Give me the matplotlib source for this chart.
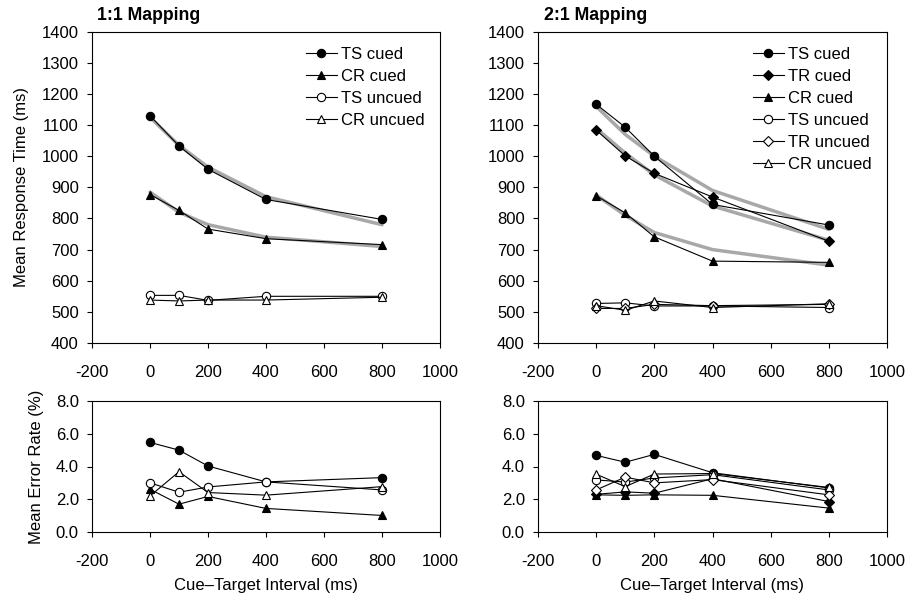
import matplotlib
matplotlib.use("Agg")
import matplotlib.pyplot as plt

plt.rcParams['font.family'] = ['Liberation Sans', 'DejaVu Sans']
plt.rcParams['axes.unicode_minus'] = False

cti = [0, 100, 200, 400, 800]
xticks = [-200, 0, 200, 400, 600, 800, 1000]

# 1:1 mapping RT
rt11_ts_cued = [1130, 1033, 958, 861, 797]
rt11_cr_cued = [877, 826, 766, 735, 716]
rt11_ts_uncued = [553, 553, 537, 550, 550]
rt11_cr_uncued = [538, 535, 538, 538, 547]
fit11_ts = [1125, 1035, 965, 870, 780]
fit11_cr = [885, 820, 780, 740, 710]

# 2:1 mapping RT
rt21_ts_cued = [1167, 1093, 1000, 845, 779]
rt21_tr_cued = [1084, 1001, 945, 869, 727]
rt21_cr_cued = [873, 818, 741, 663, 659]
rt21_ts_uncued = [527, 529, 519, 519, 514]
rt21_tr_uncued = [511, 511, 524, 520, 524]
rt21_cr_uncued = [520, 505, 535, 514, 526]
fit21_ts = [1160, 1070, 1000, 890, 765]
fit21_tr = [1090, 1010, 940, 840, 730]
fit21_cr = [875, 810, 755, 700, 650]

# 1:1 mapping errors
er11_ts_cued = [5.47, 5.0, 4.03, 3.06, 3.32]
er11_cr_cued = [2.61, 1.70, 2.17, 1.44, 1.01]
er11_ts_uncued = [3.0, 2.43, 2.75, 3.06, 2.57]
er11_cr_uncued = [2.2, 3.68, 2.41, 2.25, 2.77]

# 2:1 mapping errors
er21_ts_cued = [4.68, 4.26, 4.74, 3.62, 2.69]
er21_tr_cued = [2.3, 2.45, 2.37, 3.25, 1.86]
er21_cr_cued = [2.27, 2.24, 2.27, 2.24, 1.46]
er21_ts_uncued = [3.18, 3.05, 3.3, 3.5, 2.57]
er21_tr_uncued = [2.57, 3.35, 3.0, 3.2, 2.27]
er21_cr_uncued = [3.53, 2.77, 3.54, 3.57, 2.72]

W, H = 907, 598
fig = plt.figure(figsize=(W / 100, H / 100), dpi=100)

def ax_rect(l, r, t, b):
    return [l / W, 1 - b / H, (r - l) / W, (b - t) / H]

ax_tl = fig.add_axes(ax_rect(92, 440, 31.7, 343))
ax_tr = fig.add_axes(ax_rect(538, 887, 31.7, 343))
ax_bl = fig.add_axes(ax_rect(92, 440, 401, 532))
ax_br = fig.add_axes(ax_rect(538, 887, 401, 532))

FS = 12
GRAY = '#a8a8a8'
ms = 6.0

def style(ax, ylim, yticks, fmt):
    ax.set_xlim(-200, 1000)
    ax.set_xticks(xticks)
    ax.set_ylim(*ylim)
    ax.set_yticks(yticks)
    ax.set_yticklabels([fmt.format(v) for v in yticks])
    ax.tick_params(direction='out', length=3.5, width=0.8, labelsize=FS, colors='black')
    ax.tick_params(axis='x', pad=12)
    ax.tick_params(axis='y', pad=6)
    for s in ax.spines.values():
        s.set_linewidth(0.8)

def series(ax, y, marker, filled, label=None):
    ax.plot(cti, y, color='black', lw=0.8, marker=marker, ms=ms if marker != 'D' else ms * 0.8,
            mfc='black' if filled else 'white', mec='black', mew=0.8, label=label, zorder=4)

def fit(ax, y):
    ax.plot(cti, y, color=GRAY, lw=2.5, zorder=3, solid_capstyle='round')

leg_kw = dict(loc='upper right', frameon=False, fontsize=FS, handlelength=1.9,
              handletextpad=0.25, labelspacing=0.42, borderaxespad=0.5, borderpad=0.4)

# Top-left
fit(ax_tl, fit11_ts)
fit(ax_tl, fit11_cr)
series(ax_tl, rt11_ts_cued, 'o', True, 'TS cued')
series(ax_tl, rt11_cr_cued, '^', True, 'CR cued')
series(ax_tl, rt11_ts_uncued, 'o', False, 'TS uncued')
series(ax_tl, rt11_cr_uncued, '^', False, 'CR uncued')
style(ax_tl, (400, 1400), list(range(400, 1401, 100)), '{:d}')
ax_tl.legend(**leg_kw)
ax_tl.set_ylabel('Mean Response Time (ms)', fontsize=FS)
ax_tl.yaxis.set_label_coords((29 - 92) / 348, 0.5)
fig.text(97 / W, 1 - 15 / H, '1:1 Mapping', fontsize=12.7, fontweight='bold', va='center', ha='left')

# Top-right
fit(ax_tr, fit21_ts)
fit(ax_tr, fit21_tr)
fit(ax_tr, fit21_cr)
series(ax_tr, rt21_ts_cued, 'o', True, 'TS cued')
series(ax_tr, rt21_tr_cued, 'D', True, 'TR cued')
series(ax_tr, rt21_cr_cued, '^', True, 'CR cued')
series(ax_tr, rt21_ts_uncued, 'o', False, 'TS uncued')
series(ax_tr, rt21_tr_uncued, 'D', False, 'TR uncued')
series(ax_tr, rt21_cr_uncued, '^', False, 'CR uncued')
style(ax_tr, (400, 1400), list(range(400, 1401, 100)), '{:d}')
ax_tr.legend(**leg_kw)
fig.text(544 / W, 1 - 15 / H, '2:1 Mapping', fontsize=12.7, fontweight='bold', va='center', ha='left')

# Bottom-left
series(ax_bl, er11_ts_cued, 'o', True)
series(ax_bl, er11_cr_cued, '^', True)
series(ax_bl, er11_ts_uncued, 'o', False)
series(ax_bl, er11_cr_uncued, '^', False)
style(ax_bl, (0, 8), [0, 2, 4, 6, 8], '{:.1f}')
ax_bl.set_ylabel('Mean Error Rate (%)', fontsize=FS)
ax_bl.yaxis.set_label_coords((44 - 92) / 348, 0.5)
ax_bl.set_xlabel('Cue\u2013Target Interval (ms)', fontsize=FS, labelpad=7)

# Bottom-right
series(ax_br, er21_ts_cued, 'o', True)
series(ax_br, er21_tr_cued, 'D', True)
series(ax_br, er21_cr_cued, '^', True)
series(ax_br, er21_ts_uncued, 'o', False)
series(ax_br, er21_tr_uncued, 'D', False)
series(ax_br, er21_cr_uncued, '^', False)
style(ax_br, (0, 8), [0, 2, 4, 6, 8], '{:.1f}')
ax_br.set_xlabel('Cue\u2013Target Interval (ms)', fontsize=FS, labelpad=7)

fig.savefig('out.png', dpi=100)
